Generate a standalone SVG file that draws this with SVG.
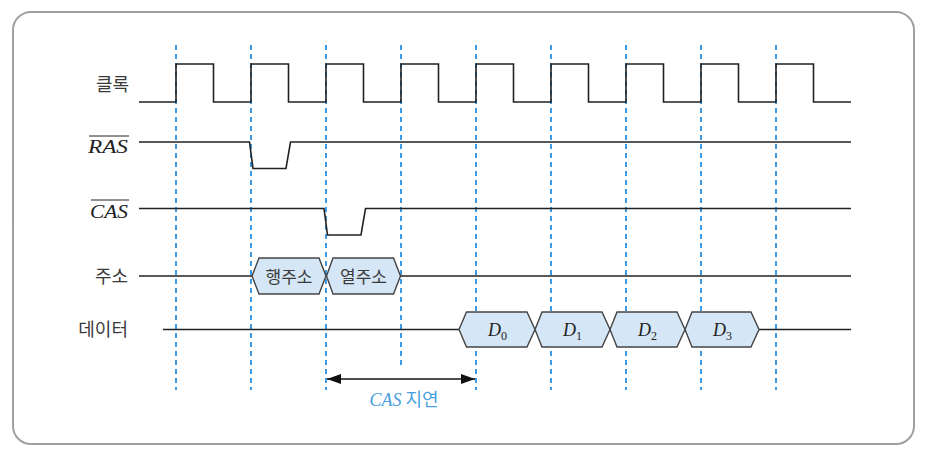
<svg xmlns="http://www.w3.org/2000/svg" width="928" height="452" viewBox="0 0 928 452">
<style>
.sig{fill:none;stroke:#222;stroke-width:1.6;stroke-linejoin:miter}
.grid{stroke:#3d9be6;stroke-width:2;stroke-dasharray:5,4;fill:none}
.hex{fill:#d5e6f6;stroke:#444;stroke-width:1.4}
.kr{font-family:"Noto Sans CJK KR","Noto Sans",sans-serif;font-size:17px;fill:#3a3a3a}
.lbl{font-size:18px}
.m{font-family:"Liberation Serif",serif;font-style:italic;font-size:18px;fill:#222}
.ovl{stroke:#222;stroke-width:1.1}
</style>
<defs>
<marker id="ah" viewBox="0 0 14 10" refX="14" refY="5" markerWidth="14" markerHeight="10" markerUnits="userSpaceOnUse" orient="auto-start-reverse">
<path d="M0,0 L14,5 L0,10 z" fill="#111"/>
</marker>
</defs>
<rect x="13" y="12" width="901" height="432" rx="18" ry="18" fill="#fff" stroke="#a0a0a0" stroke-width="2"/>
<g id="grid">
<line class="grid" x1="176" y1="45" x2="176" y2="390"/>
<line class="grid" x1="251" y1="45" x2="251" y2="390"/>
<line class="grid" x1="326" y1="45" x2="326" y2="390"/>
<line class="grid" x1="401" y1="45" x2="401" y2="368"/>
<line class="grid" x1="476" y1="45" x2="476" y2="390"/>
<line class="grid" x1="551" y1="45" x2="551" y2="390"/>
<line class="grid" x1="626" y1="45" x2="626" y2="390"/>
<line class="grid" x1="701" y1="45" x2="701" y2="390"/>
<line class="grid" x1="776" y1="45" x2="776" y2="390"/>
</g>
<g id="clock">
<text class="kr lbl" x="129" y="91" text-anchor="end">클록</text>
<path class="sig" d="M139,102 H176 V64 H213.5 V102 H251 V64 H288.5 V102 H326 V64 H363.5 V102 H401 V64 H438.5 V102 H476 V64 H513.5 V102 H551 V64 H588.5 V102 H626 V64 H663.5 V102 H701 V64 H738.5 V102 H776 V64 H813.5 V102 H851"/>
</g>
<g id="ras">
<text class="m" x="88" y="153" textLength="40" lengthAdjust="spacingAndGlyphs">RAS</text>
<line class="ovl" x1="89" y1="136" x2="129" y2="136"/>
<path class="sig" d="M139,142 H249.5 L253,168.5 H286 L290.5,142 H851"/>
</g>
<g id="cas">
<text class="m" x="90" y="218" textLength="38" lengthAdjust="spacingAndGlyphs">CAS</text>
<line class="ovl" x1="91" y1="200" x2="129" y2="200"/>
<path class="sig" d="M139,208.5 H324 L327.5,235 H361 L365.5,208.5 H851"/>
</g>
<g id="addr">
<text class="kr lbl" x="128" y="283" text-anchor="end">주소</text>
<path class="sig" d="M139,276 H252"/>
<path class="sig" d="M400.5,276 H851"/>
<polygon class="hex" points="252,276 259,258 319,258 326,276 319,294 259,294"/>
<polygon class="hex" points="326.5,276 333,258 393.5,258 400.5,276 393.5,294 333,294"/>
<text class="kr" x="289" y="282.5" text-anchor="middle">행주소</text>
<text class="kr" x="363.5" y="282.5" text-anchor="middle">열주소</text>
</g>
<g id="data">
<text class="kr lbl" x="128" y="336" text-anchor="end">데이터</text>
<path class="sig" d="M163,329.5 H459"/>
<path class="sig" d="M759,329.5 H851"/>
<polygon class="hex" points="459,329.5 466.5,312 527,312 535,329.5 527,347 466.5,347"/>
<polygon class="hex" points="535,329.5 542,312 602,312 610,329.5 602,347 542,347"/>
<polygon class="hex" points="610,329.5 617,312 677,312 685,329.5 677,347 617,347"/>
<polygon class="hex" points="685,329.5 692,312 751,312 759,329.5 751,347 692,347"/>
<text class="m" x="488" y="336">D<tspan font-size="12" font-style="normal" dy="4">0</tspan></text>
<text class="m" x="563" y="336">D<tspan font-size="12" font-style="normal" dy="4">1</tspan></text>
<text class="m" x="638" y="336">D<tspan font-size="12" font-style="normal" dy="4">2</tspan></text>
<text class="m" x="713" y="336">D<tspan font-size="12" font-style="normal" dy="4">3</tspan></text>
</g>
<g id="connectors">
<line x1="327" y1="379" x2="475" y2="379" stroke="#111" stroke-width="1.6" marker-start="url(#ah)" marker-end="url(#ah)"/>
</g>
<g id="cas-delay">
<text x="404" y="406" text-anchor="middle" fill="#4a9fe0"><tspan font-family="Liberation Serif,serif" font-style="italic" font-size="18">CAS</tspan><tspan font-family="Noto Sans CJK KR,sans-serif" font-size="18"> 지연</tspan></text>
</g>
</svg>
